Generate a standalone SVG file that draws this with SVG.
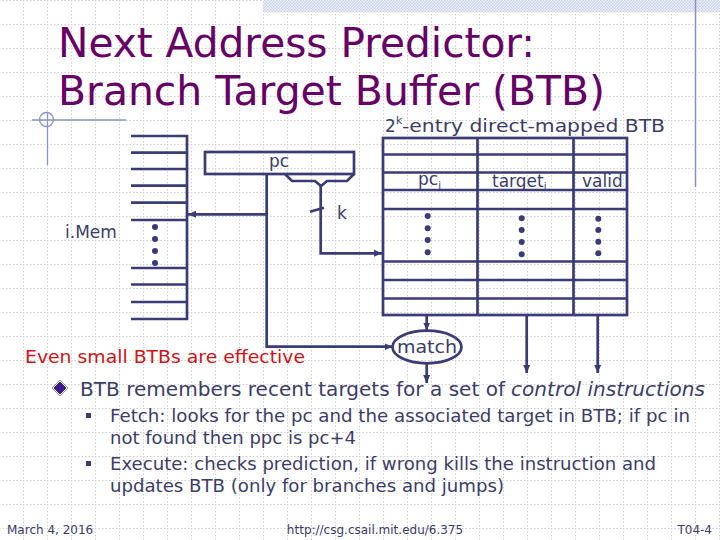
<svg xmlns="http://www.w3.org/2000/svg" width="720" height="540" viewBox="0 0 720 540">
<defs>
<pattern id="grid" patternUnits="userSpaceOnUse" x="23" y="0" width="24" height="24">
<path d="M0,0.5 H24 M0.5,0 V24" stroke="#cfcfcf" stroke-width="1" stroke-dasharray="1.5,2" fill="none"/>
</pattern>
<pattern id="hatch" patternUnits="userSpaceOnUse" width="3" height="3">
<rect width="3" height="3" fill="#eef1f8"/>
<rect width="1.5" height="1.5" fill="#c8d1e6"/>
<rect x="1.5" y="1.5" width="1.5" height="1.5" fill="#c8d1e6"/>
</pattern>
<marker id="ah" markerUnits="userSpaceOnUse" markerWidth="9" markerHeight="8" refX="8" refY="4" orient="auto">
<path d="M0,0.5 L8,4 L0,7.5 z" fill="#3b3b75"/>
</marker>
<style>
.ln{stroke:#3b3b75;stroke-width:2.7;fill:none}
.dt{fill:#3b3b75}
.t{font-family:"DejaVu Sans",Verdana,sans-serif;fill:#3c3c68}
.title{font-family:"DejaVu Sans",Verdana,sans-serif;fill:#660066;font-size:40px}
.conn{stroke:#3b3b75;stroke-width:2.7;fill:none;marker-end:url(#ah)}
</style>
</defs>
<rect width="720" height="540" fill="#ffffff"/>
<rect width="720" height="540" fill="url(#grid)"/>
<rect x="263" y="0" width="457" height="12.5" fill="url(#hatch)"/>
<line x1="695.5" y1="0" x2="695.5" y2="187" stroke="#8a90b8" stroke-width="1.5"/>
<g id="decor" stroke="#8a94c0" stroke-width="1.3" fill="none">
<line x1="32" y1="120" x2="126" y2="120"/>
<line x1="47.5" y1="112" x2="47.5" y2="165"/>
<circle cx="46.5" cy="119.5" r="7"/>
</g>
<g id="title">
<text class="title" x="58" y="56.5" textLength="477" lengthAdjust="spacingAndGlyphs">Next Address Predictor:</text>
<text class="title" x="58" y="105" textLength="547" lengthAdjust="spacingAndGlyphs">Branch Target Buffer (BTB)</text>
</g>
<g id="imem">
<path class="ln" d="M131,136 H187 M131,152.7 H187 M131,169 H187 M131,185.7 H187 M131,202.7 H187 M131,220 H187 M131,268 H187 M131,284.5 H187 M131,302 H187 M131,319 H187 M187,134.7 V320.3"/>
<circle class="dt" cx="155" cy="227" r="3"/>
<circle class="dt" cx="155" cy="239" r="3"/>
<circle class="dt" cx="155" cy="251" r="3"/>
<circle class="dt" cx="155" cy="263" r="3"/>
<text class="t" x="65" y="238" font-size="17">i.Mem</text>
</g>
<g id="pc">
<rect class="ln" x="205" y="152" width="149" height="22"/>
<path class="ln" d="M285,174 L292,181 L315,181 L321,186 L327,181 L347,181 L354,174" stroke-linejoin="miter"/>
<text class="t" x="269" y="167" font-size="17">pc</text>
</g>
<g id="btb">
<text class="t" x="385" y="132" font-size="17">2</text>
<text class="t" x="396" y="124" font-size="11">k</text>
<text class="t" x="402" y="132" font-size="17.5" textLength="263" lengthAdjust="spacingAndGlyphs">-entry direct-mapped BTB</text>
<rect class="ln" x="383" y="138" width="244" height="177"/>
<path class="ln" d="M477.5,138 V315 M573.5,138 V315 M383,154.5 H627 M383,172.5 H627 M383,190 H627 M383,209 H627 M383,261.5 H627 M383,280 H627 M383,298.5 H627"/>
<text class="t" x="418" y="185" font-size="17">pc<tspan font-size="10" dy="4">i</tspan></text>
<text class="t" x="492" y="187" font-size="17">target<tspan font-size="10" dy="3">i</tspan></text>
<text class="t" x="582" y="187" font-size="17">valid</text>
<circle class="dt" cx="427.7" cy="216" r="3"/>
<circle class="dt" cx="427.7" cy="228.3" r="3"/>
<circle class="dt" cx="427.7" cy="240" r="3"/>
<circle class="dt" cx="427.7" cy="252.3" r="3"/>
<circle class="dt" cx="521.7" cy="218.3" r="3"/>
<circle class="dt" cx="521.7" cy="230" r="3"/>
<circle class="dt" cx="521.7" cy="242" r="3"/>
<circle class="dt" cx="521.7" cy="254.3" r="3"/>
<circle class="dt" cx="598.3" cy="218.7" r="3"/>
<circle class="dt" cx="598.3" cy="230" r="3"/>
<circle class="dt" cx="598.3" cy="241.7" r="3"/>
<circle class="dt" cx="598.3" cy="253.3" r="3"/>
</g>
<g id="match">
<ellipse class="ln" cx="427" cy="347" rx="34.5" ry="16.3"/>
<text class="t" x="397" y="353" font-size="17.5" textLength="60" lengthAdjust="spacingAndGlyphs">match</text>
</g>
<g id="connectors">
<path class="conn" d="M266.7,174 V346.7 H392.5"/>
<path class="conn" d="M266.7,214.3 H188"/>
<path class="conn" d="M320.7,186 V253.3 H382"/>
<line class="ln" x1="310" y1="211.7" x2="324" y2="207.7" stroke-width="2"/>
<path class="conn" d="M426.7,315 V330.5"/>
<path class="conn" d="M426.7,363.3 V383"/>
<path class="conn" d="M526.7,315 V373"/>
<path class="conn" d="M597.7,315 V373"/>
</g>
<text class="t" x="337" y="219" font-size="17">k</text>
<g id="notes">
<text x="25" y="363" font-family="'Comic Sans MS','DejaVu Sans',sans-serif" font-size="17.5" fill="#cc1418" textLength="280" lengthAdjust="spacingAndGlyphs">Even small BTBs are effective</text>
<path d="M60,381 L67,388 L60,395 L53,388 z" fill="#3a1a8c" stroke="#ffffff" stroke-width="1"/>
<path d="M60,380 L68,388 L60,396 L52,388 z" fill="none" stroke="#7a7aa0" stroke-width="0.8"/>
<text class="t" x="80" y="396" font-size="19.5" textLength="425" lengthAdjust="spacingAndGlyphs">BTB remembers recent targets for a set of</text>
<text class="t" x="511" y="396" font-size="19.5" font-style="italic" textLength="194" lengthAdjust="spacingAndGlyphs">control instructions</text>
<rect x="86" y="413" width="5" height="5" fill="#3c3c68"/>
<rect x="86" y="461" width="5" height="5" fill="#3c3c68"/>
<text class="t" x="110" y="422" font-size="17" textLength="580" lengthAdjust="spacingAndGlyphs">Fetch: looks for the pc and the associated target in BTB; if pc in</text>
<text class="t" x="110" y="444" font-size="17" textLength="246" lengthAdjust="spacingAndGlyphs">not found then ppc is pc+4</text>
<text class="t" x="110" y="470" font-size="17" textLength="546" lengthAdjust="spacingAndGlyphs">Execute: checks prediction, if wrong kills the instruction and</text>
<text class="t" x="110" y="492" font-size="17" textLength="394" lengthAdjust="spacingAndGlyphs">updates BTB (only for branches and jumps)</text>
</g>
<g id="footer">
<text class="t" x="7" y="534" font-size="12">March 4, 2016</text>
<text class="t" x="375" y="534" font-size="12" text-anchor="middle">http://csg.csail.mit.edu/6.375</text>
<text class="t" x="712" y="534" font-size="12" text-anchor="end">T04-4</text>
</g>
</svg>
